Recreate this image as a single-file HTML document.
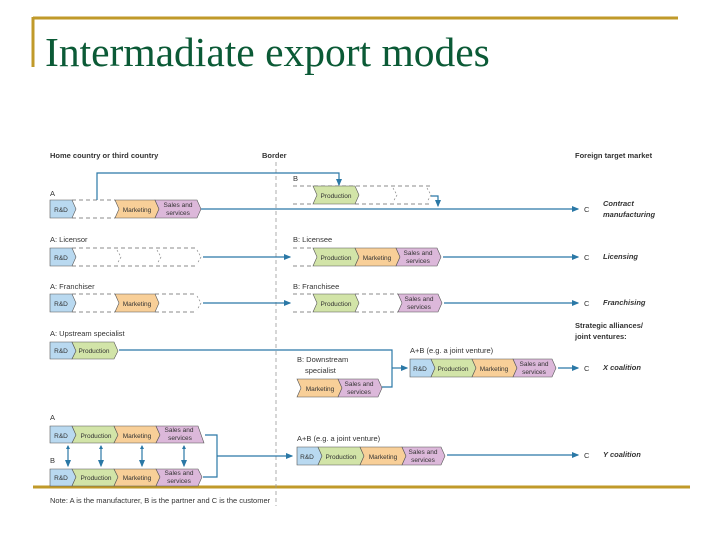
<!DOCTYPE html>
<html><head><meta charset="utf-8"><style>
html,body{margin:0;padding:0;background:#fff;}
svg{display:block;}
.t{font-family:"Liberation Sans",sans-serif;font-size:7.5px;fill:#333;}
.b{font-weight:bold;}
.bi{font-weight:bold;font-style:italic;}
.s{font-family:"Liberation Sans",sans-serif;font-size:6.5px;fill:#333;text-anchor:middle;}
.ln{stroke:#2a78a6;stroke-width:1.2;fill:none;}
.d{stroke:#666;stroke-width:0.8;stroke-dasharray:4,3;fill:none;}
.bl{fill:#b9d9f0;stroke:#555;stroke-width:0.6;}
.gr{fill:#d2e4a8;stroke:#555;stroke-width:0.6;}
.or{fill:#f8cf98;stroke:#555;stroke-width:0.6;}
.pk{fill:#dcb8da;stroke:#555;stroke-width:0.6;}
.ds{fill:none;stroke:#777;stroke-width:0.6;stroke-dasharray:2,2;}
</style></head><body>
<svg width="720" height="540" viewBox="0 0 720 540" xmlns="http://www.w3.org/2000/svg">
<defs><marker id="a" markerWidth="6" markerHeight="6" refX="5" refY="3" orient="auto"><path d="M0,0.5 L6,3 L0,5.5 z" fill="#2a78a6"/></marker></defs>
<line x1="33" y1="18" x2="678" y2="18" stroke="#c09a2a" stroke-width="3"/>
<line x1="33" y1="17" x2="33" y2="67" stroke="#c09a2a" stroke-width="3"/>
<line x1="33" y1="487" x2="690" y2="487" stroke="#c09a2a" stroke-width="3"/>
<text x="45" y="66" font-family="Liberation Serif,serif" font-size="41.5" fill="#0b5a36">Intermadiate export modes</text>

<text class="t b" x="50" y="158">Home country or third country</text>
<text class="t b" x="262" y="158">Border</text>
<text class="t b" x="575" y="158">Foreign target market</text>
<line x1="276" y1="162" x2="276" y2="506" stroke="#999" stroke-width="0.8" stroke-dasharray="4,3"/>

<text class="t" x="50" y="196">A</text>
<line class="d" x1="72" y1="200" x2="115" y2="200"/><line class="d" x1="72" y1="218" x2="115" y2="218"/>
<polygon class="bl" points="50,200 72,200 76,209 72,218 50,218"/>
<polygon class="or" points="115,200 155,200 159,209 155,218 115,218 119,209"/>
<polygon class="pk" points="155,200 197,200 201,209 197,218 155,218 159,209"/>
<text class="s" x="61" y="212">R&amp;D</text>
<text class="s" x="137" y="212">Marketing</text>
<text class="s" x="178" y="207">Sales and</text><text class="s" x="178" y="215">services</text>
<polyline class="ln" points="97,200 97,173 339,173 339,185" marker-end="url(#a)"/>
<text class="t" x="293" y="181">B</text>
<line class="d" x1="293" y1="186" x2="430" y2="186"/><line class="d" x1="293" y1="204" x2="313" y2="204"/><line class="d" x1="355" y1="204" x2="430" y2="204"/>
<polygon class="gr" points="313,186 355,186 359,195 355,204 313,204 317,195"/>
<text class="s" x="336" y="198">Production</text>
<polyline class="ds" points="393,188 397,195 393,202"/><polyline class="ds" points="427,188 431,195 427,202"/>
<polyline class="ln" points="431,196 438,196 438,206" marker-end="url(#a)"/>
<line class="ln" x1="201" y1="209" x2="578" y2="209" marker-end="url(#a)"/>
<text class="t" x="584" y="212">C</text>
<text class="t bi" x="603" y="206">Contract</text><text class="t bi" x="603" y="217">manufacturing</text>

<text class="t" x="50" y="242">A: Licensor</text>
<polygon class="bl" points="50,248 72,248 76,257 72,266 50,266"/>
<text class="s" x="61" y="260">R&amp;D</text>
<line class="d" x1="72" y1="248" x2="197" y2="248"/><line class="d" x1="72" y1="266" x2="197" y2="266"/>
<polyline class="ds" points="117,250 121,257 117,264"/><polyline class="ds" points="157,250 161,257 157,264"/><polyline class="ds" points="197,250 201,257 197,264"/>
<line class="ln" x1="203" y1="257" x2="290" y2="257" marker-end="url(#a)"/>
<text class="t" x="293" y="242">B: Licensee</text>
<line class="d" x1="293" y1="248" x2="313" y2="248"/><line class="d" x1="293" y1="266" x2="313" y2="266"/>
<polygon class="gr" points="313,248 355,248 359,257 355,266 313,266 317,257"/>
<polygon class="or" points="355,248 396,248 400,257 396,266 355,266 359,257"/>
<polygon class="pk" points="396,248 437,248 441,257 437,266 396,266 400,257"/>
<text class="s" x="336" y="260">Production</text><text class="s" x="377" y="260">Marketing</text>
<text class="s" x="418" y="255">Sales and</text><text class="s" x="418" y="263">services</text>
<line class="ln" x1="443" y1="257" x2="578" y2="257" marker-end="url(#a)"/>
<text class="t" x="584" y="260">C</text><text class="t bi" x="603" y="259">Licensing</text>

<text class="t" x="50" y="289">A: Franchiser</text>
<polygon class="bl" points="50,294 72,294 76,303 72,312 50,312"/>
<text class="s" x="61" y="306">R&amp;D</text>
<line class="d" x1="72" y1="294" x2="115" y2="294"/><line class="d" x1="72" y1="312" x2="115" y2="312"/>
<line class="d" x1="155" y1="294" x2="197" y2="294"/><line class="d" x1="155" y1="312" x2="197" y2="312"/>
<polygon class="or" points="115,294 155,294 159,303 155,312 115,312 119,303"/>
<text class="s" x="137" y="306">Marketing</text>
<polyline class="ds" points="197,296 201,303 197,310"/>
<line class="ln" x1="203" y1="303" x2="290" y2="303" stroke-width="1.6" marker-end="url(#a)"/>
<text class="t" x="293" y="289">B: Franchisee</text>
<line class="d" x1="293" y1="294" x2="313" y2="294"/><line class="d" x1="293" y1="312" x2="313" y2="312"/>
<line class="d" x1="355" y1="294" x2="398" y2="294"/><line class="d" x1="355" y1="312" x2="398" y2="312"/>
<polygon class="gr" points="313,294 355,294 359,303 355,312 313,312 317,303"/>
<polygon class="pk" points="398,294 438,294 442,303 438,312 398,312 402,303"/>
<text class="s" x="336" y="306">Production</text>
<text class="s" x="419" y="301">Sales and</text><text class="s" x="419" y="309">services</text>
<line class="ln" x1="444" y1="303" x2="578" y2="303" stroke-width="1.6" marker-end="url(#a)"/>
<text class="t" x="584" y="306">C</text><text class="t bi" x="603" y="305">Franchising</text>

<text class="t b" x="575" y="328">Strategic alliances/</text><text class="t b" x="575" y="339">joint ventures:</text>
<text class="t" x="50" y="336">A: Upstream specialist</text>
<polygon class="bl" points="50,342 72,342 76,351 72,359 50,359"/>
<polygon class="gr" points="72,342 114,342 118,351 114,359 72,359 76,351"/>
<text class="s" x="61" y="353">R&amp;D</text><text class="s" x="94" y="353">Production</text>
<polyline class="ln" points="119,350 392,350 392,387 382,387"/>
<line class="ln" x1="392" y1="368" x2="407" y2="368" marker-end="url(#a)"/>
<text class="t" x="297" y="362">B: Downstream</text><text class="t" x="305" y="373">specialist</text>
<polygon class="or" points="297,379 338,379 342,388 338,397 297,397 301,388"/>
<polygon class="pk" points="338,379 378,379 382,388 378,397 338,397 342,388"/>
<text class="s" x="320" y="391">Marketing</text>
<text class="s" x="359" y="386">Sales and</text><text class="s" x="359" y="394">services</text>
<text class="t" x="410" y="353">A+B (e.g. a joint venture)</text>
<polygon class="bl" points="410,359 431,359 435,368 431,377 410,377"/>
<polygon class="gr" points="431,359 472,359 476,368 472,377 431,377 435,368"/>
<polygon class="or" points="472,359 513,359 517,368 513,377 472,377 476,368"/>
<polygon class="pk" points="513,359 552,359 556,368 552,377 513,377 517,368"/>
<text class="s" x="420" y="371">R&amp;D</text><text class="s" x="453" y="371">Production</text><text class="s" x="494" y="371">Marketing</text>
<text class="s" x="534" y="366">Sales and</text><text class="s" x="534" y="374">services</text>
<line class="ln" x1="558" y1="368" x2="578" y2="368" marker-end="url(#a)"/>
<text class="t" x="584" y="371">C</text><text class="t bi" x="603" y="370">X coalition</text>

<text class="t" x="50" y="420">A</text>
<polygon class="bl" points="50,426 72,426 76,435 72,443 50,443"/>
<polygon class="gr" points="72,426 114,426 118,435 114,443 72,443 76,435"/>
<polygon class="or" points="114,426 156,426 160,435 156,443 114,443 118,435"/>
<polygon class="pk" points="156,426 198,426 204,443 156,443 160,435"/>
<text class="s" x="61" y="438">R&amp;D</text><text class="s" x="96" y="438">Production</text><text class="s" x="137" y="438">Marketing</text>
<text class="s" x="179" y="432">Sales and</text><text class="s" x="180" y="440">services</text>
<text class="t" x="50" y="463">B</text>
<polygon class="bl" points="50,469 72,469 76,477 72,486 50,486"/>
<polygon class="gr" points="72,469 114,469 118,477 114,486 72,486 76,477"/>
<polygon class="or" points="114,469 156,469 160,477 156,486 114,486 118,477"/>
<polygon class="pk" points="156,469 198,469 202,477 198,486 156,486 160,477"/>
<text class="s" x="61" y="480">R&amp;D</text><text class="s" x="96" y="480">Production</text><text class="s" x="137" y="480">Marketing</text>
<text class="s" x="179" y="475">Sales and</text><text class="s" x="179" y="483">services</text>
<g class="ln">
<line x1="68" y1="446" x2="68" y2="466" marker-end="url(#a)"/>
<line x1="101" y1="446" x2="101" y2="466" marker-end="url(#a)"/>
<line x1="142" y1="446" x2="142" y2="466" marker-end="url(#a)"/>
<line x1="184" y1="446" x2="184" y2="466" marker-end="url(#a)"/>
</g>
<polygon points="66,449 68,445 70,449" fill="#2a78a6"/><polygon points="99,449 101,445 103,449" fill="#2a78a6"/>
<polygon points="140,449 142,445 144,449" fill="#2a78a6"/><polygon points="182,449 184,445 186,449" fill="#2a78a6"/>
<polyline class="ln" points="205,435 217,435 217,477 203,477"/>
<line class="ln" x1="217" y1="456" x2="292" y2="456" marker-end="url(#a)"/>
<text class="t" x="297" y="441">A+B (e.g. a joint venture)</text>
<polygon class="bl" points="297,447 318,447 322,456 318,465 297,465"/>
<polygon class="gr" points="318,447 360,447 364,456 360,465 318,465 322,456"/>
<polygon class="or" points="360,447 402,447 406,456 402,465 360,465 364,456"/>
<polygon class="pk" points="402,447 441,447 445,456 441,465 402,465 406,456"/>
<text class="s" x="307" y="459">R&amp;D</text><text class="s" x="341" y="459">Production</text><text class="s" x="383" y="459">Marketing</text>
<text class="s" x="423" y="454">Sales and</text><text class="s" x="423" y="462">services</text>
<line class="ln" x1="447" y1="455" x2="578" y2="455" marker-end="url(#a)"/>
<text class="t" x="584" y="458">C</text><text class="t bi" x="603" y="457">Y coalition</text>

<text class="t" x="50" y="503">Note: A is the manufacturer, B is the partner and C is the customer</text>
</svg>
</body></html>
